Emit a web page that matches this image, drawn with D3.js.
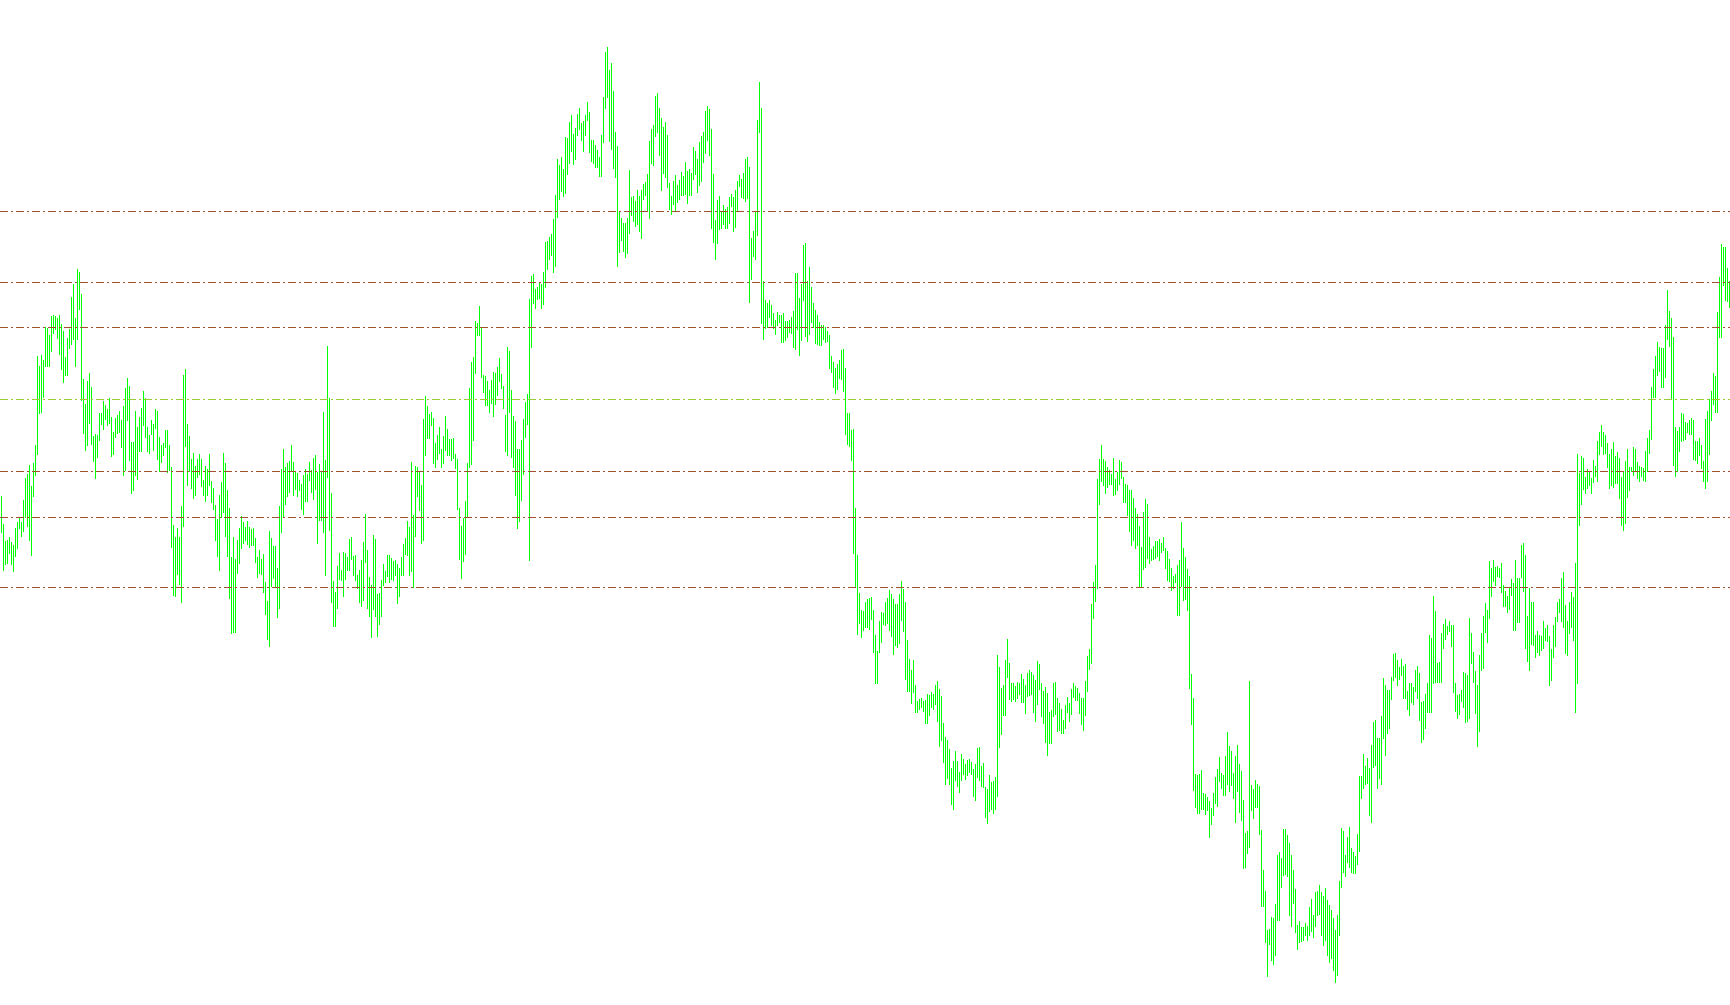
<!DOCTYPE html>
<html><head><meta charset="utf-8">
<script src="https://cdn.jsdelivr.net/npm/d3@7"></script>
<style>html,body{margin:0;padding:0;background:#fff;overflow:hidden}</style>
</head><body>
<svg id="chart" width="1730" height="1005"></svg>
<script>
const highs = [
504,476,459,460,463,458,455,472,478,482,
478,500,522,526,535,514,537,555,644,634,
645,640,673,672,665,684,685,684,682,685,
676,669,643,662,671,703,716,682,731,728,
706,621,596,619,627,613,564,566,565,587,
587,599,595,591,602,583,568,582,585,589,
580,594,612,622,614,558,558,589,573,583,
592,609,602,573,565,580,576,591,589,563,
555,557,570,570,555,533,475,463,472,463,
494,625,631,576,564,541,547,534,541,546,
541,520,534,531,546,519,512,495,481,505,
518,547,537,510,492,443,463,441,460,472,
484,478,473,479,473,471,472,462,443,450,
441,446,418,399,469,462,454,454,432,494,
531,551,533,537,539,555,538,529,527,520,
516,525,531,526,538,530,542,545,528,536,
529,588,540,654,602,507,419,408,434,447,
430,448,447,443,461,463,444,445,425,430,
440,458,486,450,423,415,465,461,406,407,
420,436,429,445,445,442,439,440,436,432,
443,456,462,479,473,538,485,534,533,528,
515,581,604,594,586,588,582,557,565,573,
551,564,584,571,561,561,562,546,541,492,
474,482,499,537,612,638,643,679,677,694,
672,625,624,619,610,620,628,627,633,642,
626,614,585,653,649,610,584,579,551,551,
560,581,598,606,701,724,726,711,713,718,
716,728,758,759,763,766,781,805,841,835,
843,831,863,862,878,885,866,872,886,892,
877,879,885,898,888,860,860,855,850,843,
865,903,948,953,930,937,909,868,854,788,
782,777,777,782,830,803,804,799,810,804,
810,816,818,826,859,871,875,904,907,892,
882,873,878,865,817,804,819,825,815,820,
828,824,838,829,831,827,853,849,841,858,
864,868,889,894,891,871,826,780,800,804,
789,795,791,793,803,806,803,810,819,825,
821,827,841,843,833,762,769,788,880,918,
892,719,700,697,700,695,687,680,688,685,
685,687,679,679,680,683,689,727,727,702,
716,755,757,719,733,713,697,690,685,678,
675,675,673,669,665,644,638,632,636,640,
650,651,632,587,587,570,571,492,445,407,
390,389,398,401,402,403,390,365,349,379,
388,387,398,402,410,406,401,396,396,406,
419,411,398,360,341,330,340,315,299,301,
302,299,300,306,305,308,306,315,319,311,
304,277,263,260,251,232,239,249,239,228,
246,241,236,240,241,238,231,236,252,253,
234,237,213,211,225,218,219,223,345,333,
312,315,340,361,337,317,317,314,318,317,
326,321,315,327,330,328,325,320,339,336,
317,309,313,307,288,290,317,318,302,297,
291,280,295,303,297,311,317,314,312,307,
302,302,319,344,351,396,418,435,521,541,
555,541,539,533,530,526,542,521,528,540,
538,523,516,515,510,510,502,492,486,474,
453,488,501,496,463,451,454,459,459,461,
457,463,452,449,441,432,424,426,435,440,
478,452,443,431,424,326,302,226,225,226,
230,207,206,203,199,192,207,223,231,243,
227,225,244,268,254,249,227,244,255,236,
229,200,167,169,319,215,211,220,216,214,
170,130,109,70,71,83,82,96,145,148,
142,171,171,165,157,145,130,111,75,79,
73,73,77,74,93,101,85,108,109,115,
108,104,112,100,95,90,82,70,85,119,
172,169,145,163,173,152,148,144,166,224,
224,246,234,242,232,255,278,280,262,262,
284,322,315,310,310,323,346,347,340,333,
341,334,336,309,317,317,313,330,334,327,
298,299,306,317,365,362,404,389,337,338,
367,376,381,374,379,375,375,317,305,306,
310,328,327,325,382,367,348,329,315,345,
367,384,397,390,439,432,440,433,434,432,
437,415,409,404,413,421,417,440,422,422,
455,457,445,384,412,398,398,365,369,365,
364,379,372,375,364,351,375,383,398,401,
422,428,395,379,398,408,403,437,546,527,
544,542,523,531,529,522,540,534,559,568,
575,568,565,557,546,551,558,544,548,542,
523,529,539,551,533,533,553,551,538,534,
533,532,549,562,570,613,631,644,658,653,
652,652,675,710,689,682,663,573,569,573,
587,586,578,577,580,582,580,559,559,562,
555,539,581,589,601,609,627,624,688,723,
756,753,753,732,719
];
const lows = [
468,430,436,437,447,436,429,444,452,472,
464,469,483,474,460,445,504,525,546,587,
588,603,634,634,634,649,667,671,662,646,
631,618,625,625,652,656,661,634,661,691,
600,567,550,555,577,556,539,522,543,560,
576,571,581,575,577,544,546,563,567,568,
553,525,530,580,540,507,510,525,521,549,
549,575,563,549,547,566,550,572,541,529,
538,545,553,528,530,453,405,404,426,416,
398,474,554,515,529,512,502,505,523,526,
514,505,499,505,515,498,491,460,444,430,
483,488,464,444,402,367,368,368,427,437,
452,457,460,456,453,455,455,438,423,427,
426,408,386,361,354,414,422,413,383,392,
468,484,496,504,508,530,505,511,504,510,
491,486,499,499,520,508,501,511,457,480,
480,468,425,523,470,398,374,374,392,421,
420,404,421,430,430,441,425,420,412,398,
394,400,438,392,384,363,391,384,364,376,
384,415,418,424,418,421,420,425,397,404,
425,425,446,445,425,429,413,464,504,490,
457,460,545,562,562,575,537,533,541,547,
533,537,550,545,545,540,542,532,491,441,
422,439,446,483,533,536,560,627,665,665,
623,608,595,595,588,597,584,596,605,619,
612,592,549,545,588,543,533,505,472,479,
500,526,563,576,440,653,697,692,701,702,
692,696,713,731,741,745,728,734,783,801,
809,804,807,826,837,849,836,841,865,871,
860,849,865,880,848,839,837,833,833,824,
824,858,892,903,859,851,832,823,734,748,
760,749,743,747,767,785,779,774,776,769,
762,801,805,789,782,837,835,864,868,845,
810,827,823,813,791,786,796,790,798,801,
805,805,806,797,805,805,821,826,808,815,
819,838,847,860,845,772,758,741,757,771,
772,776,772,772,777,794,769,773,790,814,
803,802,799,802,698,721,744,741,765,868,
677,661,672,673,683,675,672,666,675,678,
658,658,660,663,668,667,653,651,671,645,
660,700,664,659,666,678,673,657,656,655,
655,661,658,659,632,628,613,607,611,622,
621,609,566,556,554,540,447,413,366,377,
363,370,373,373,371,381,348,317,317,348,
358,376,375,377,370,364,346,355,353,357,
380,369,321,309,309,297,308,288,288,291,
293,289,277,277,285,293,291,296,279,254,
260,238,216,222,216,196,191,220,214,208,
220,226,221,225,228,226,204,200,223,220,
214,213,183,177,189,191,187,191,204,253,
266,285,285,323,301,299,301,299,302,306,
298,298,287,304,305,306,288,279,296,311,
284,277,258,245,257,257,284,286,269,270,
267,267,272,288,279,286,303,300,300,287,
276,270,285,309,331,337,382,399,412,496,
519,515,507,513,516,516,505,506,510,516,
522,498,498,485,469,455,460,452,455,414,
414,431,433,442,437,440,441,442,444,440,
448,450,432,420,419,410,412,418,385,385,
414,400,401,390,312,276,210,193,187,187,
191,191,186,190,163,176,185,197,194,219,
212,205,205,216,209,215,202,178,209,188,
180,132,133,147,153,190,182,193,193,166,
94,94,58,24,56,40,36,45,80,80,
113,125,126,124,85,74,97,68,51,58,
59,60,65,60,65,69,63,74,85,86,
65,55,60,45,38,42,30,18,25,65,
113,128,124,138,133,128,127,127,136,149,
202,212,216,217,185,178,233,235,212,222,
216,262,245,267,272,301,320,323,315,321,
325,302,302,291,285,298,296,309,302,280,
258,261,272,288,288,288,317,318,318,318,
318,352,361,366,369,354,308,289,282,286,
299,293,278,279,282,337,318,287,254,269,
330,332,368,358,382,404,419,415,424,423,
408,394,394,388,391,405,370,370,378,378,
423,409,352,339,330,356,355,343,348,345,
350,352,360,359,315,320,343,354,379,388,
379,373,347,345,367,373,360,288,317,475,
496,511,507,512,515,507,518,524,519,546,
554,546,547,533,512,515,513,517,517,502,
475,470,477,503,510,529,525,530,522,519,
524,520,519,529,547,561,603,603,625,629,
613,613,623,661,654,601,535,524,529,549,
559,560,561,568,566,566,541,540,537,545,
532,519,512,519,546,580,596,588,588,663,
663,715,700,699,693
];
const levels = [789, 718, 673, 601, 529, 483, 413];
const levelColors = ["#a0522d", "#a0522d", "#a0522d", "#9acd32", "#a0522d", "#a0522d", "#a0522d"];
const barColor = "#00ff00";

const W = 1730, H = 1005;
const n = Math.min(highs.length, lows.length);
const bars = d3.range(n).map(i => ({i, hi: Math.max(highs[i], lows[i]), lo: Math.min(highs[i], lows[i])}));

const x = d3.scaleLinear().domain([0, 864]).range([1.5, 1729.5]);
const y = d3.scaleLinear().domain([-5, 1000]).range([H, 0]);

const svg = d3.select("#chart");
svg.append("rect").attr("width", W).attr("height", H).attr("fill", "#ffffff");

svg.append("g").selectAll("line").data(bars).join("line")
  .attr("x1", d => x(d.i)).attr("x2", d => x(d.i))
  .attr("y1", d => y(d.hi)).attr("y2", d => y(d.lo) + 1)
  .attr("stroke", barColor).attr("stroke-width", 1)
  .attr("shape-rendering", "crispEdges");

svg.append("g").selectAll("line").data(levels).join("line")
  .attr("x1", 0).attr("x2", W)
  .attr("y1", d => y(d) + 0.5).attr("y2", d => y(d) + 0.5)
  .attr("stroke", (d, k) => levelColors[k]).attr("stroke-width", 1)
  .attr("stroke-dasharray", "8,3,2,3")
  .attr("shape-rendering", "crispEdges");
</script>
</body></html>
